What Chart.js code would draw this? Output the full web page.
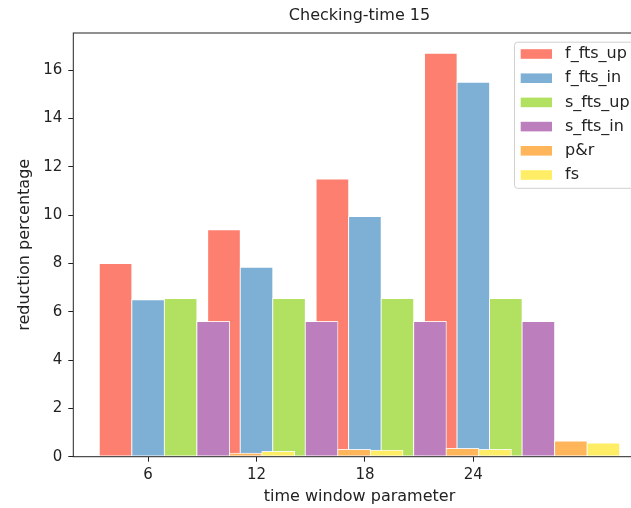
<!DOCTYPE html>
<html>
<head>
<meta charset="utf-8">
<script src="https://cdn.jsdelivr.net/npm/chart.js@4.4.0/dist/chart.umd.min.js"></script>
<style>
  html, body { margin: 0; padding: 0; background: #fff; overflow: hidden; }
  #wrap { width: 660px; height: 508px; }
</style>
</head>
<body>
<div id="wrap"><canvas id="barChart"></canvas></div>
<script>
// x axis: time window parameter
const windows = [6, 12, 18, 24];
const xTicks = [6, 12, 18, 24];
const yTicks = [0, 2, 4, 6, 8, 10, 12, 14, 16];

const seriesNames = ["f_fts_up", "f_fts_in", "s_fts_up", "s_fts_in", "p&r", "fs"];
const fFtsUp = [8.0, 9.4, 11.5, 16.7];
const fFtsIn = [6.5, 7.85, 9.95, 15.5];
const sFtsUp = [6.55, 6.55, 6.55, 6.55];
const sFtsIn = [5.6, 5.6, 5.6, 5.6];
const pAndR = [0.15, 0.3, 0.35, 0.66];
const fs = [0.22, 0.27, 0.3, 0.57];
const seriesValues = [fFtsUp, fFtsIn, sFtsUp, sFtsIn, pAndR, fs];

const colors = ["#fd7f6f", "#7eb0d5", "#b2e061", "#bd7ebe", "#ffb55a", "#ffee65"];
const barStep = 1.8; // width of one bar in x units, series sit side by side

const FONT = "'DejaVu Sans', sans-serif";
const TEXT = "#222";

// each series is shifted by one bar width, starting one bar left of the tick
const datasets = seriesNames.map((name, i) => ({
  label: name,
  data: windows.map((w, j) => ({ x: w + (i - 1) * barStep, y: seriesValues[i][j] })),
  backgroundColor: colors[i],
  borderColor: "rgba(255,255,255,0.85)",
  borderWidth: 1,
  borderSkipped: false,
  barThickness: 33,
  grouped: false,
  order: seriesNames.length - i, // later series drawn on top, like matplotlib
}));

// axis limits the way matplotlib autoscales (5% margin)
const allX = datasets.flatMap(d => d.data.map(p => p.x));
const xLo = Math.min(...allX) - barStep / 2;
const xHi = Math.max(...allX) + barStep / 2;
const xPad = (xHi - xLo) * 0.05;
const yMax = Math.max(...seriesValues.flat()) * 1.05;

const frameAndLegend = {
  id: "frameAndLegend",
  afterDatasetsDraw(chart) {
    const { ctx, chartArea: a } = chart;
    ctx.save();
    ctx.strokeStyle = TEXT;
    ctx.lineWidth = 1;
    ctx.strokeRect(a.left, a.top, a.right - a.left, a.bottom - a.top);
    ctx.restore();
  },
  afterDraw(chart) {
    const { ctx, chartArea: a } = chart;
    const sets = chart.data.datasets;
    const boxW = 123, rowH = 24.2;
    const boxH = 12.3 + rowH * (sets.length - 1) + 12.8;
    const x0 = a.right - 8.7 - boxW;
    const y0 = a.top + 8.7;
    ctx.save();
    ctx.fillStyle = "rgba(255,255,255,0.8)";
    ctx.strokeStyle = "#d0d0d0";
    ctx.lineWidth = 1;
    ctx.beginPath();
    ctx.roundRect(x0 + 0.5, y0 + 0.5, boxW, boxH, 3);
    ctx.fill();
    ctx.stroke();
    ctx.font = "16px " + FONT;
    ctx.textBaseline = "middle";
    ctx.textAlign = "left";
    sets.forEach((d, i) => {
      const cy = y0 + 12.3 + i * rowH;
      ctx.fillStyle = d.backgroundColor;
      ctx.fillRect(x0 + 6.7, cy - 4.8, 31.3, 9.6);
      ctx.fillStyle = TEXT;
      ctx.fillText(d.label, x0 + 51, cy);
    });
    ctx.restore();
  },
};

const ctx = document.getElementById("barChart").getContext("2d");
new Chart(ctx, {
  type: "bar",
  data: { datasets },
  options: {
    responsive: true,
    maintainAspectRatio: false,
    animation: false,
    events: [],
    layout: { padding: { left: 0, right: 14.3, top: 0, bottom: 0 } },
    plugins: {
      legend: { display: false },
      tooltip: { enabled: false },
      title: {
        display: true,
        text: "Checking-time 15",
        fullSize: false,
        color: TEXT,
        font: { family: FONT, size: 16, weight: "normal" },
        padding: { top: 6.5, bottom: 7.3 },
      },
    },
    scales: {
      x: {
        type: "linear",
        min: xLo - xPad,
        max: xHi + xPad,
        offset: false,
        afterBuildTicks: (scale) => { scale.ticks = xTicks.map(v => ({ value: v })); },
        afterFit: (scale) => { scale.height = 51.3; },
        grid: { display: true, drawOnChartArea: false, drawTicks: true, tickLength: 5, tickColor: TEXT, offset: false },
        border: { display: false },
        ticks: { color: TEXT, font: { family: FONT, size: 15 }, padding: 4.8, maxRotation: 0, autoSkip: false },
        title: {
          display: true,
          text: "time window parameter",
          color: TEXT,
          font: { family: FONT, size: 16 },
          padding: { top: 0, bottom: 1.3 },
        },
      },
      y: {
        min: 0,
        max: yMax,
        afterBuildTicks: (scale) => { scale.ticks = yTicks.map(v => ({ value: v })); },
        afterFit: (scale) => { scale.width = 73.3; },
        grid: { display: true, drawOnChartArea: false, drawTicks: true, tickLength: 5, tickColor: TEXT },
        border: { display: false },
        ticks: { color: TEXT, font: { family: FONT, size: 15 }, padding: 6 },
        title: {
          display: true,
          text: "reduction percentage",
          color: TEXT,
          font: { family: FONT, size: 16 },
          padding: { top: 15.4, bottom: 0 },
        },
      },
    },
  },
  plugins: [frameAndLegend],
});
</script>
</body>
</html>
